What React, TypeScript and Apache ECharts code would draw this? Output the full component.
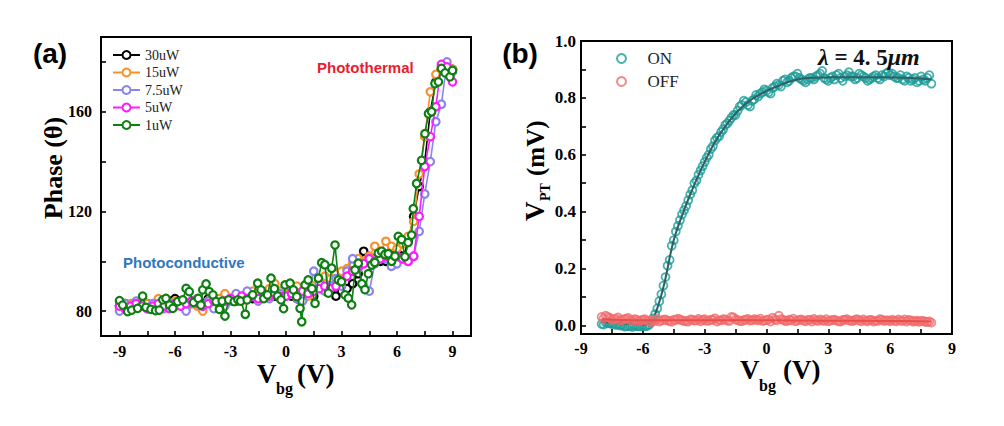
import React, { useEffect, useRef } from "react";
import * as echarts from "echarts";

// ---------- Panel (a): Phase vs Vbg ----------
const aX = [-9,-8.7,-8.4,-8.1,-7.8,-7.5,-7.2,-6.9,-6.6,-6.3,-6,-5.7,-5.4,-5.1,-4.8,-4.5,-4.2,-3.9,-3.6,-3.3,-3,-2.7,-2.4,-2.1,-1.8,-1.5,-1.2,-0.9,-0.6,-0.3,0,0.3,0.6,0.9,1.2,1.5,1.8,2.1,2.4,2.7,3,3.3,3.6,3.9,4.2,4.5,4.8,5.1,5.4,5.7,6,6.3,6.6,6.9,7.2,7.5,7.8,8.1,8.4,8.7,9];
const p30uW = [82,83,82,81.5,82,83,82,81,83,84, 85,84,83,84,84.5,83,85,84,84.5,86, 85,84,85,86,85,87,86,88,86,87, 87,86,85,86,87,86,90,92,91,86, 88,89,91,95,104,100,101,100,100,102, 104,105,108,118,130,140,160,172,177,178, 177];
const p15uW = [81,82,83,82,84,83,82,85,83,82, 84,83,81,83,82,80,84,83,85,87, 85,86,84,86,88,87,86,89,91,88, 87,89,90,88,86,90,92,94,93,95, 96,97,99,101,100,102,106,104,108,106, 105,107,110,116,135,150,168,175,178,177, 177];
const p7_5uW = [80,83,82,84,82,81,83,82,81,83, 82,84,80,83,85,82,84,81,83,82, 84,87,85,88,86,84,87,85,88,87, 86,88,85,84,88,96,91,88,90,93, 90,96,101,97,90,88,99,103,101,98, 99,101,100,102,112,127,140,156,163,180, 176];
const p5uW = [82,81,82,83,82,81,82,83,82,81, 83,82,83,84,83,82,83,84,83,84, 85,84,86,85,86,85,87,86,87,86, 86,87,86,88,87,88,89,90,89,90, 92,94,96,98,99,101,100,101,102,101, 102,101,100,102,118,138,150,162,179,178, 172];
const g1X = [-9,-8.83,-8.56,-8.34,-8.02,-7.75,-7.57,-7.3,-7.05,-6.85,-6.66,-6.49,-6.3,-6.12,-5.85,-5.58,-5.4,-5.23,-5,-4.74,-4.6,-4.5,-4.32,-4.15,-3.95,-3.78,-3.6,-3.45,-3.3,-3.1,-2.8,-2.6,-2.45,-2.2,-2.1,-1.8,-1.53,-1.35,-1.2,-1,-0.81,-0.63,-0.45,-0.27,-0.13,-0.05,0.22,0.4,0.58,0.76,0.85,1.03,1.2,1.4,1.57,1.75,1.93,2.1,2.29,2.47,2.65,2.83,3,3.19,3.37,3.55,3.73,3.91,4.1,4.27,4.45,4.63,4.8,4.99,5.17,5.35,5.53,5.71,5.89,6.07,6.25,6.43,6.6,6.79,6.88,7.06,7.33,7.51,7.7,7.87,8.05,8.24,8.4,8.6,8.86,9];
const p1uW = [84.2,82.4,79.8,80.4,81.1,86,81.5,80.7,80.2,80.4,84.5,85.1,82.4,81.1,83.8,84.5,89.1,87.8,83.5,85.1,82.4,88.5,90.9,87.8,86.5,83.8,80.7,84,78,84.5,83.8,84.5,84,78.7,84.5,86.5,91.2,88.5,85,86.5,93.2,89,86,84.5,81,90.5,91.2,88.5,85.8,81.1,75.7,90.5,92.5,89,83.1,93.2,99.4,98.6,87.2,97.2,106.5,92.5,91.8,86.5,85.2,82.5,96.5,99.2,91,88.6,95,98.5,99.5,103.2,104,102.7,103,100,102,110,108.7,101.8,107.5,110.5,121.1,131.2,140.5,151.2,159.2,160,171.3,172,177.4,175.6,174,176.6];

const aSeriesNames = ["30uW", "15uW", "7.5uW", "5uW", "1uW"];
const aColors = ["#000000", "#f7922e", "#8a84ef", "#ff1aff", "#0e7f12"];
const aXTickValues = [-9,-7.5,-6,-4.5,-3,-1.5,0,1.5,3,4.5,6,7.5,9];
const aXLabelValues = [-9,-6,-3,0,3,6,9];
const aYTickValues = [80,100,120,140,160,180];
const aYLabelValues = [80,120,160];

// ---------- Panel (b): V_PT vs Vbg (two sweeps each) ----------
const bX = [-8,-7.8,-7.6,-7.4,-7.2,-7,-6.8,-6.6,-6.4,-6.2,-6,-5.8,-5.6,-5.4,-5.2,-5,-4.8,-4.6,-4.4,-4.2,-4,-3.8,-3.6,-3.4,-3.2,-3,-2.8,-2.6,-2.4,-2.2,-2,-1.8,-1.6,-1.4,-1.2,-1,-0.8,-0.6,-0.4,-0.2,0,0.2,0.4,0.6,0.8,1,1.2,1.4,1.6,1.8,2,2.2,2.4,2.6,2.8,3,3.2,3.4,3.6,3.8,4,4.2,4.4,4.6,4.8,5,5.2,5.4,5.6,5.8,6,6.2,6.4,6.6,6.8,7,7.2,7.4,7.6,7.8,8];
const bX2 = [-7.9,-7.7,-7.5,-7.3,-7.1,-6.9,-6.7,-6.5,-6.3,-6.1,-5.9,-5.7,-5.5,-5.3,-5.1,-4.9,-4.7,-4.5,-4.3,-4.1,-3.9,-3.7,-3.5,-3.3,-3.1,-2.9,-2.7,-2.5,-2.3,-2.1,-1.9,-1.7,-1.5,-1.3,-1.1,-0.9,-0.7,-0.5,-0.3,-0.1,0.1,0.3,0.5,0.7,0.9,1.1,1.3,1.5,1.7,1.9,2.1,2.3,2.5,2.7,2.9,3.1,3.3,3.5,3.7,3.9,4.1,4.3,4.5,4.7,4.9,5.1,5.3,5.5,5.7,5.9,6.1,6.3,6.5,6.7,6.9,7.1,7.3,7.5,7.7,7.9];
const onValues = [0.005,0.01,0.008,0.006,0.004,0.002,-0.003,-0.002,0.0,-0.003, 0.0,-0.002,0.01,0.04,0.085,0.14,0.21,0.28,0.33,0.37, 0.405,0.44,0.475,0.51,0.545,0.575,0.6,0.63,0.66,0.68, 0.705,0.72,0.74,0.755,0.775,0.785,0.77,0.795,0.805,0.82, 0.825,0.815,0.84,0.845,0.86,0.855,0.87,0.875,0.87,0.86, 0.865,0.87,0.875,0.885,0.87,0.86,0.875,0.88,0.87,0.875, 0.89,0.875,0.87,0.88,0.87,0.865,0.875,0.87,0.88,0.885, 0.88,0.875,0.87,0.865,0.875,0.86,0.87,0.86,0.865,0.87, 0.85];
const onValues2 = [0.003,0.008,0.005,0.002,0.0,-0.004,-0.002,-0.005,-0.002,-0.004, -0.003,0.002,0.025,0.06,0.11,0.17,0.23,0.3,0.35,0.39, 0.42,0.46,0.5,0.53,0.56,0.59,0.62,0.65,0.665,0.69, 0.71,0.73,0.74,0.77,0.79,0.775,0.79,0.81,0.815,0.83, 0.82,0.835,0.85,0.84,0.865,0.86,0.875,0.885,0.865,0.855, 0.87,0.865,0.88,0.895,0.865,0.87,0.865,0.885,0.86,0.88, 0.875,0.865,0.885,0.875,0.86,0.87,0.88,0.865,0.875,0.89, 0.885,0.87,0.88,0.86,0.87,0.865,0.855,0.875,0.86,0.88];
const offValues = [0.03,0.034,0.026,0.022,0.028,0.02,0.024,0.018,0.022,0.015, 0.02,0.017,0.012,0.016,0.014,0.02,0.017,0.013,0.019,0.021, 0.016,0.014,0.02,0.018,0.015,0.022,0.017,0.02,0.014,0.018, 0.021,0.016,0.028,0.019,0.015,0.02,0.017,0.022,0.018,0.016, 0.019,0.014,0.021,0.034,0.02,0.016,0.018,0.015,0.02,0.017, 0.019,0.014,0.018,0.021,0.016,0.015,0.019,0.017,0.014,0.02, 0.018,0.016,0.022,0.015,0.017,0.019,0.014,0.016,0.02,0.018, 0.015,0.017,0.021,0.016,0.014,0.018,0.015,0.013,0.016,0.012, 0.01];
const offValues2 = [0.025,0.03,0.02,0.024,0.018,0.022,0.026,0.016,0.02,0.018, 0.022,0.015,0.019,0.023,0.017,0.021,0.016,0.02,0.024,0.018, 0.015,0.021,0.017,0.023,0.019,0.016,0.02,0.025,0.018,0.022, 0.017,0.03,0.021,0.016,0.019,0.023,0.018,0.02,0.024,0.017, 0.021,0.027,0.018,0.022,0.016,0.02,0.024,0.017,0.021,0.015, 0.02,0.023,0.016,0.018,0.022,0.017,0.02,0.015,0.019,0.022, 0.016,0.02,0.018,0.021,0.015,0.019,0.017,0.022,0.016,0.018, 0.02,0.015,0.017,0.021,0.019,0.014,0.017,0.016,0.013,0.014];
const onFitX = [-8,-7,-6,-5.7,-5.4,-5,-4.5,-4,-3.5,-3,-2.5,-2,-1.5,-1,-0.5,0,0.5,1,1.5,2,3,4,5,6,7,8];
const onFitY = [0.012,0.008,0.004,0.005,0.04,0.135,0.3,0.405,0.495,0.575,0.645,0.7,0.745,0.78,0.805,0.825,0.84,0.855,0.865,0.87,0.872,0.873,0.873,0.872,0.87,0.865];
const offFitX = [-8,-6,-3,0,3,6,8];
const offFitY = [0.022,0.018,0.018,0.018,0.017,0.016,0.014];
const bXTickValues = [-7.5,-6,-4.5,-3,-1.5,0,1.5,3,4.5,6,7.5];
const bXLabelValues = [-9,-6,-3,0,3,6,9];
const bYTickValues = [0,0.1,0.2,0.3,0.4,0.5,0.6,0.7,0.8,0.9,1.0];
const bYLabelValues = [0,0.2,0.4,0.6,0.8,1.0];

const ON_COLOR = "#1d9c98";
const ON_FIT = "#2f6163";
const OFF_COLOR = "#f26a6a";
const OFF_FIT = "#e84e4e";

const SERIF = '"Liberation Serif", "Times New Roman", serif';
const SANS = '"Liberation Sans", Arial, sans-serif';

const zip = (xs: number[], ys: number[]) => xs.map((x, i) => [x, ys[i]]);

const tickLabel = {
  fontFamily: SERIF,
  fontWeight: "bold" as const,
  fontSize: 16,
  color: "#000",
};

function buildOption() {
  const aData = [zip(aX, p30uW), zip(aX, p15uW), zip(aX, p7_5uW), zip(aX, p5uW), zip(g1X, p1uW)];
  const aSeries = aSeriesNames.map((name, i) => ({
    name,
    type: "line",
    xAxisIndex: 0,
    yAxisIndex: 0,
    data: aData[i],
    symbol: "circle",
    symbolSize: 7.5,
    color: aColors[i],
    itemStyle: { color: "#ffffff", borderColor: aColors[i], borderWidth: 2.2 },
    lineStyle: { color: aColors[i], width: 1.6 },
    z: 2 + i,
  }));

  const scatter = (name: string, xs: number[], ys: number[], color: string, z: number) => ({
    name,
    type: "scatter",
    xAxisIndex: 1,
    yAxisIndex: 1,
    data: zip(xs, ys),
    symbol: "circle",
    symbolSize: 8,
    itemStyle: { color: "transparent", borderColor: color, borderWidth: 1.8 },
    z,
  });

  const axisCommon = {
    axisLine: { show: true, onZero: false, lineStyle: { color: "#000", width: 2 } },
    splitLine: { show: false },
  };
  const tick = (values: number[]) => ({
    show: true,
    inside: true,
    length: 5,
    lineStyle: { width: 1.6, color: "#000" },
    customValues: values,
  });

  return {
    animation: false,
    backgroundColor: "#ffffff",
    grid: [
      { left: 101, top: 37, width: 370, height: 299, show: true, borderColor: "#000", borderWidth: 2, backgroundColor: "transparent" },
      { left: 581, top: 41, width: 371, height: 293, show: true, borderColor: "#000", borderWidth: 2, backgroundColor: "transparent" },
    ],
    xAxis: [
      {
        ...axisCommon,
        type: "value",
        gridIndex: 0,
        min: -10,
        max: 10,
        axisTick: tick(aXTickValues),
        axisLabel: { ...tickLabel, margin: 7, customValues: aXLabelValues },
      },
      {
        ...axisCommon,
        type: "value",
        gridIndex: 1,
        min: -9,
        max: 9,
        axisTick: tick(bXTickValues),
        axisLabel: { ...tickLabel, margin: 6, customValues: bXLabelValues },
      },
    ],
    yAxis: [
      {
        ...axisCommon,
        type: "value",
        gridIndex: 0,
        min: 70,
        max: 190,
        axisTick: tick(aYTickValues),
        axisLabel: { ...tickLabel, margin: 9, customValues: aYLabelValues },
      },
      {
        ...axisCommon,
        type: "value",
        gridIndex: 1,
        min: -0.03,
        max: 1.0,
        axisTick: tick(bYTickValues),
        axisLabel: { ...tickLabel, fontSize: 17, margin: 5, customValues: bYLabelValues, formatter: (v: number) => v.toFixed(1) },
      },
    ],
    legend: [
      {
        orient: "vertical",
        left: 112,
        top: 48,
        padding: 0,
        itemWidth: 27,
        itemHeight: 10,
        itemGap: 3.5,
        textStyle: { fontFamily: SERIF, fontSize: 14, color: "#222", lineHeight: 14 },
        data: aSeriesNames.map((name, i) => ({
          name,
          itemStyle: { color: "#ffffff", borderColor: aColors[i], borderWidth: 2 },
          lineStyle: { color: aColors[i], width: 2 },
        })),
      },
      {
        orient: "vertical",
        left: 616,
        top: 50,
        padding: 0,
        itemWidth: 42,
        itemHeight: 9,
        itemGap: 6,
        textStyle: { fontFamily: SERIF, fontSize: 17, color: "#222", lineHeight: 17 },
        data: [
          { name: "ON", itemStyle: { color: "transparent", borderColor: ON_COLOR, borderWidth: 2 } },
          { name: "OFF", itemStyle: { color: "transparent", borderColor: OFF_COLOR, borderWidth: 2 } },
        ],
      },
    ],
    series: [
      ...aSeries,
      scatter("ON", bX, onValues, ON_COLOR, 2),
      scatter("ON", bX2, onValues2, ON_COLOR, 2),
      {
        name: "ON fit",
        type: "line",
        xAxisIndex: 1,
        yAxisIndex: 1,
        data: zip(onFitX, onFitY),
        showSymbol: false,
        smooth: 0.4,
        lineStyle: { color: ON_FIT, width: 2 },
        z: 3,
      },
      scatter("OFF", bX, offValues, OFF_COLOR, 4),
      scatter("OFF", bX2, offValues2, OFF_COLOR, 4),
      {
        name: "OFF fit",
        type: "line",
        xAxisIndex: 1,
        yAxisIndex: 1,
        data: zip(offFitX, offFitY),
        showSymbol: false,
        smooth: 0.4,
        lineStyle: { color: OFF_FIT, width: 2 },
        z: 5,
      },
    ],
    graphic: [
      // panel labels
      { type: "text", x: 50, y: 53, style: { text: "(a)", fontFamily: SANS, fontWeight: "bold", fontSize: 28, fill: "#000", align: "center", verticalAlign: "middle" } },
      { type: "text", x: 520, y: 53, style: { text: "(b)", fontFamily: SANS, fontWeight: "bold", fontSize: 28, fill: "#000", align: "center", verticalAlign: "middle" } },
      // annotations
      { type: "text", x: 317, y: 67, style: { text: "Photothermal", fontFamily: SANS, fontWeight: "bold", fontSize: 15, fill: "#ec1c2e", align: "left", verticalAlign: "middle" }, z: 10 },
      { type: "text", x: 123, y: 262, style: { text: "Photoconductive", fontFamily: SANS, fontWeight: "bold", fontSize: 15, fill: "#2e78bd", align: "left", verticalAlign: "middle" }, z: 10 },
      {
        type: "text",
        x: 818,
        y: 57,
        z: 10,
        style: {
          text: "{i|λ}{n| = 4. 5}{i|μm}",
          align: "left",
          verticalAlign: "middle",
          rich: {
            i: { fontFamily: SERIF, fontStyle: "italic", fontWeight: "bold", fontSize: 24, fill: "#111" },
            n: { fontFamily: SERIF, fontWeight: "bold", fontSize: 23, fill: "#111" },
          },
        },
      },
      // left y title
      { type: "text", x: 53, y: 168, rotation: Math.PI / 2, style: { text: "Phase (θ)", fontFamily: SERIF, fontWeight: "bold", fontSize: 26, fill: "#000", align: "center", verticalAlign: "middle" } },
      // left x title
      { type: "text", x: 257, y: 374, style: { text: "V", fontFamily: SERIF, fontWeight: "bold", fontSize: 27, fill: "#000", align: "left", verticalAlign: "middle" } },
      { type: "text", x: 276, y: 388, style: { text: "bg", fontFamily: SERIF, fontWeight: "bold", fontSize: 16, fill: "#000", align: "left", verticalAlign: "middle" } },
      { type: "text", x: 297, y: 374, style: { text: "(V)", fontFamily: SERIF, fontWeight: "bold", fontSize: 27, fill: "#000", align: "left", verticalAlign: "middle" } },
      // right x title
      { type: "text", x: 740, y: 370, style: { text: "V", fontFamily: SERIF, fontWeight: "bold", fontSize: 27, fill: "#000", align: "left", verticalAlign: "middle" } },
      { type: "text", x: 759, y: 385, style: { text: "bg", fontFamily: SERIF, fontWeight: "bold", fontSize: 16, fill: "#000", align: "left", verticalAlign: "middle" } },
      { type: "text", x: 783, y: 370, style: { text: "(V)", fontFamily: SERIF, fontWeight: "bold", fontSize: 27, fill: "#000", align: "left", verticalAlign: "middle" } },
      // right y title (rotated group)
      {
        type: "group",
        x: 535,
        y: 169,
        rotation: Math.PI / 2,
        children: [
          { type: "text", x: -52, y: 0, style: { text: "V", fontFamily: SERIF, fontWeight: "bold", fontSize: 27, fill: "#000", align: "left", verticalAlign: "middle" } },
          { type: "text", x: -32, y: 10, style: { text: "PT", fontFamily: SERIF, fontWeight: "bold", fontSize: 14, fill: "#000", align: "left", verticalAlign: "middle" } },
          { type: "text", x: -7, y: 0, style: { text: "(mV)", fontFamily: SERIF, fontWeight: "bold", fontSize: 25, fill: "#000", align: "left", verticalAlign: "middle" } },
        ],
      },
    ],
  };
}

export default function App() {
  const ref = useRef<HTMLDivElement>(null);
  useEffect(() => {
    if (!ref.current) return;
    const chart = echarts.init(ref.current, null, { renderer: "svg" });
    chart.setOption(buildOption() as any);
    return () => chart.dispose();
  }, []);
  return (
    <div
      ref={ref}
      style={{ position: "absolute", left: 0, top: 0, width: 1004, height: 426, background: "#fff" }}
    />
  );
}
